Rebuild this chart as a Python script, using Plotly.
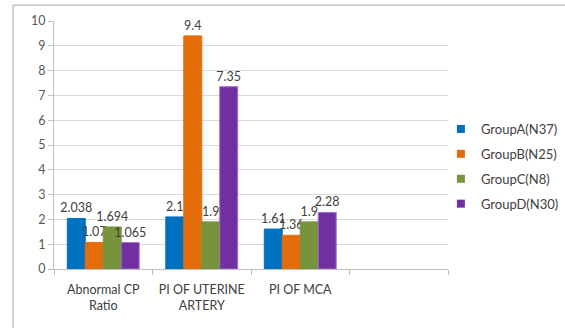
import plotly.graph_objects as go

categories = ["Abnormal CP<br>Ratio", "PI OF UTERINE<br>ARTERY", "PI OF MCA", " "]
groups = ["GroupA(N37)", "GroupB(N25)", "GroupC(N8)", "GroupD(N30)"]
values = {
    "GroupA(N37)": [2.038, 2.1, 1.61, None],
    "GroupB(N25)": [1.07, 9.4, 1.36, None],
    "GroupC(N8)": [1.694, 1.9, 1.9, None],
    "GroupD(N30)": [1.065, 7.35, 2.28, None],
}
labels = {
    "GroupA(N37)": ["2.038", "2.1", "1.61", ""],
    "GroupB(N25)": ["1.07", "9.4", "1.36", ""],
    "GroupC(N8)": ["1.694", "1.9", "1.9", ""],
    "GroupD(N30)": ["1.065", "7.35", "2.28", ""],
}
colors = ["#0070C0", "#E46C0A", "#77933C", "#7030A0"]
line_colors = ["#0070C0", "#E46C0A", "#77933C", "#9F6FC8"]

FONT = "Lato, Open Sans, sans-serif"

fig = go.Figure()
for g, c, lc in zip(groups, colors, line_colors):
    fig.add_trace(go.Bar(
        name=g, x=categories, y=values[g], text=labels[g],
        textposition="outside", cliponaxis=False, constraintext="none",
        textfont=dict(family=FONT, size=12.5, color="#404040"),
        marker=dict(color=c, line=dict(color=lc, width=1)),
        showlegend=False,
    ))
# legend-only entries with small square swatches
for g, c in zip(groups, colors):
    fig.add_trace(go.Scatter(
        name=g, x=[None], y=[None], mode="markers",
        marker=dict(symbol="square", size=8, color=c),
        legendgroup=g, showlegend=True,
    ))

fig.update_layout(
    width=565, height=328,
    margin=dict(l=54, r=117, t=21, b=59, autoexpand=False),
    paper_bgcolor="white", plot_bgcolor="white",
    barmode="group", bargap=0.27, bargroupgap=0,
    font=dict(family=FONT, size=12, color="#404040"),
    showlegend=True,
    legend=dict(x=0.982, y=0.625, xanchor="left", yanchor="top",
                font=dict(family=FONT, size=13, color="#404040"),
                traceorder="grouped", tracegroupgap=5,
                itemwidth=30, bgcolor="rgba(0,0,0,0)"),
    xaxis=dict(type="category", tickson="boundaries", ticks="outside",
               ticklen=5, tickcolor="#bfbfbf", showline=True,
               linecolor="#bfbfbf", linewidth=1, showgrid=False,
               ticklabelstandoff=9, tickangle=0, automargin=False,
               tickfont=dict(family=FONT, size=12.5, color="#404040"),
               fixedrange=True),
    yaxis=dict(range=[0, 10], dtick=1, ticks="outside", ticklen=5,
               tickcolor="#bfbfbf", showline=True, linecolor="#bfbfbf",
               gridcolor="#d9d9d9", gridwidth=1, zeroline=False,
               automargin=False,
               tickfont=dict(family=FONT, size=12.5, color="#595959"),
               fixedrange=True),
    shapes=[dict(type="rect", xref="paper", yref="paper",
                 x0=-0.104, x1=1.32, y0=-0.28, y1=1.064,
                 line=dict(color="#a6a6a6", width=1),
                 fillcolor="rgba(0,0,0,0)", layer="below")],
)

fig.write_html("out.html")
